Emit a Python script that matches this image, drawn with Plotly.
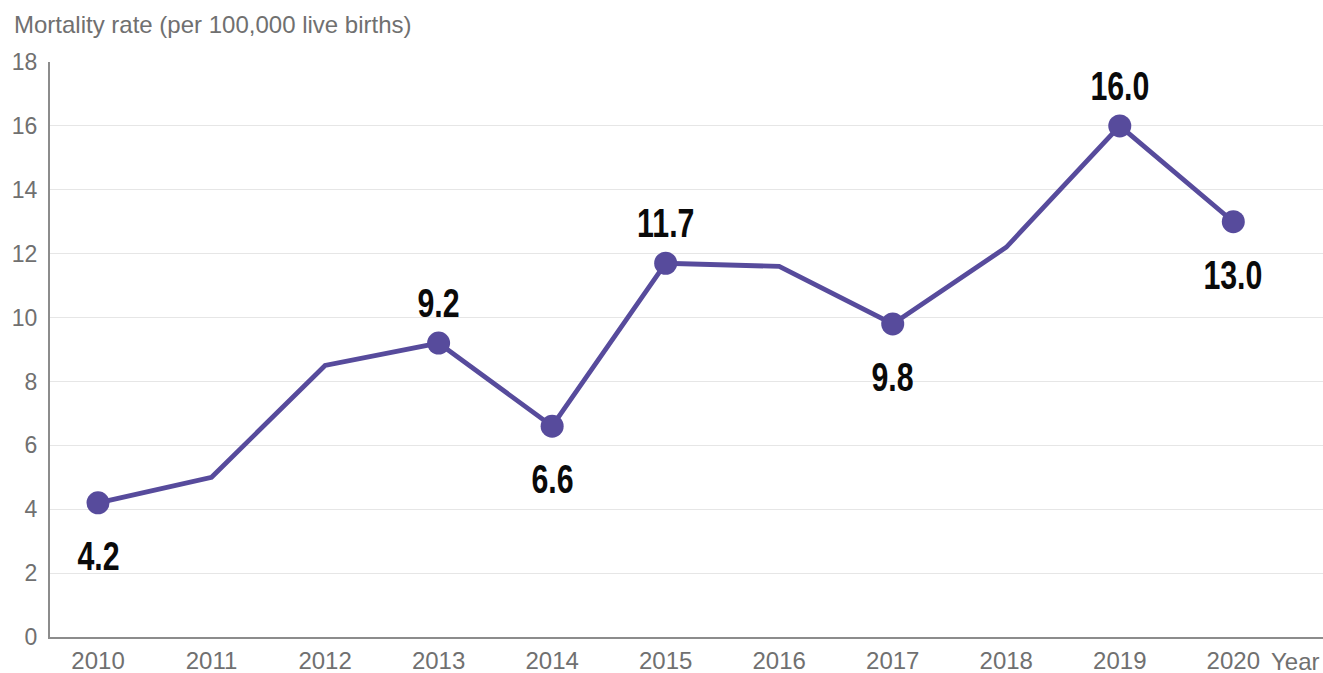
import plotly.graph_objects as go

years = [2010, 2011, 2012, 2013, 2014, 2015, 2016, 2017, 2018, 2019, 2020]
rates = [4.2, 5.0, 8.5, 9.2, 6.6, 11.7, 11.6, 9.8, 12.2, 16.0, 13.0]

# Years that get a marker and a value label, with label placement
labelled_years = [2010, 2013, 2014, 2015, 2017, 2019, 2020]
label_side = ["below", "above", "below", "above", "below", "above", "below"]

y_ticks = [0, 2, 4, 6, 8, 10, 12, 14, 16, 18]

LINE = "#574b9c"
GREY = "#707070"
XTICK_FONT = dict(family="Liberation Sans, Arial, sans-serif", size=24, color=GREY)
YTICK_FONT = dict(family="Liberation Sans, Arial, sans-serif", size=23, color=GREY)
LABEL_FONT = dict(family="Liberation Sans, Arial, sans-serif",
                  size=41, color="#0a0a0a", weight="bold")

fig = go.Figure()

fig.add_trace(go.Scatter(
    x=years, y=rates, mode="lines",
    line=dict(color=LINE, width=4.8),
    hoverinfo="skip", showlegend=False,
))

mark_vals = [rates[years.index(y)] for y in labelled_years]
fig.add_trace(go.Scatter(
    x=labelled_years, y=mark_vals, mode="markers",
    marker=dict(color=LINE, size=23),
    showlegend=False,
))

for yr, val, side in zip(labelled_years, mark_vals, label_side):
    fig.add_annotation(
        x=yr, y=val, text=f"{val:.1f}", showarrow=False,
        yshift=40 if side == "above" else -53,
        font=LABEL_FONT, xanchor="center", yanchor="middle",
    )

fig.add_annotation(
    xref="paper", yref="paper", x=(12 - 50) / 1273, y=1, yshift=38,
    text="Mortality rate (per 100,000 live births)", showarrow=False,
    xanchor="left", yanchor="middle",
    font=dict(family="Liberation Sans, Arial, sans-serif", size=24, color=GREY),
)
fig.add_annotation(
    xref="paper", yref="paper", x=(1321 - 50) / 1273, y=0, yshift=-24,
    text="Year", showarrow=False, xanchor="right", yanchor="middle",
    borderpad=0, font=XTICK_FONT,
)

fig.update_layout(
    width=1323, height=673,
    margin=dict(l=50, r=0, t=62, b=36),
    plot_bgcolor="white", paper_bgcolor="white",
    xaxis=dict(
        range=[2009.577, 2020.79], tickmode="array", tickvals=years,
        ticktext=[str(y) for y in years], showgrid=False, zeroline=False,
        showline=True, linecolor="#8c8c8c", linewidth=2, automargin=False,
        ticks="", tickfont=XTICK_FONT, ticklabelstandoff=1,
    ),
    yaxis=dict(
        range=[0, 18], tickmode="array", tickvals=y_ticks,
        showgrid=True, gridcolor="#e6e6e6", gridwidth=1, zeroline=False,
        showline=True, linecolor="#8c8c8c", linewidth=2, automargin=False,
        ticks="", tickfont=YTICK_FONT, ticklabelstandoff=6,
    ),
)

# Value labels are set in a condensed face: narrow them horizontally
n_labels = len(labelled_years)
condense_js = """
var gd = document.getElementById('{plot_id}');
function condense() {
  gd.querySelectorAll('g.annotation').forEach(function (g) {
    var idx = +g.getAttribute('data-index');
    if (idx < %d) {
      var t = g.querySelector('text');
      t.style.transformBox = 'fill-box';
      t.style.transformOrigin = 'center';
      t.style.transform = 'scaleX(0.74)';
    }
  });
}
condense();
gd.on('plotly_afterplot', condense);
""" % n_labels

fig.write_html("out.html", post_script=condense_js)
